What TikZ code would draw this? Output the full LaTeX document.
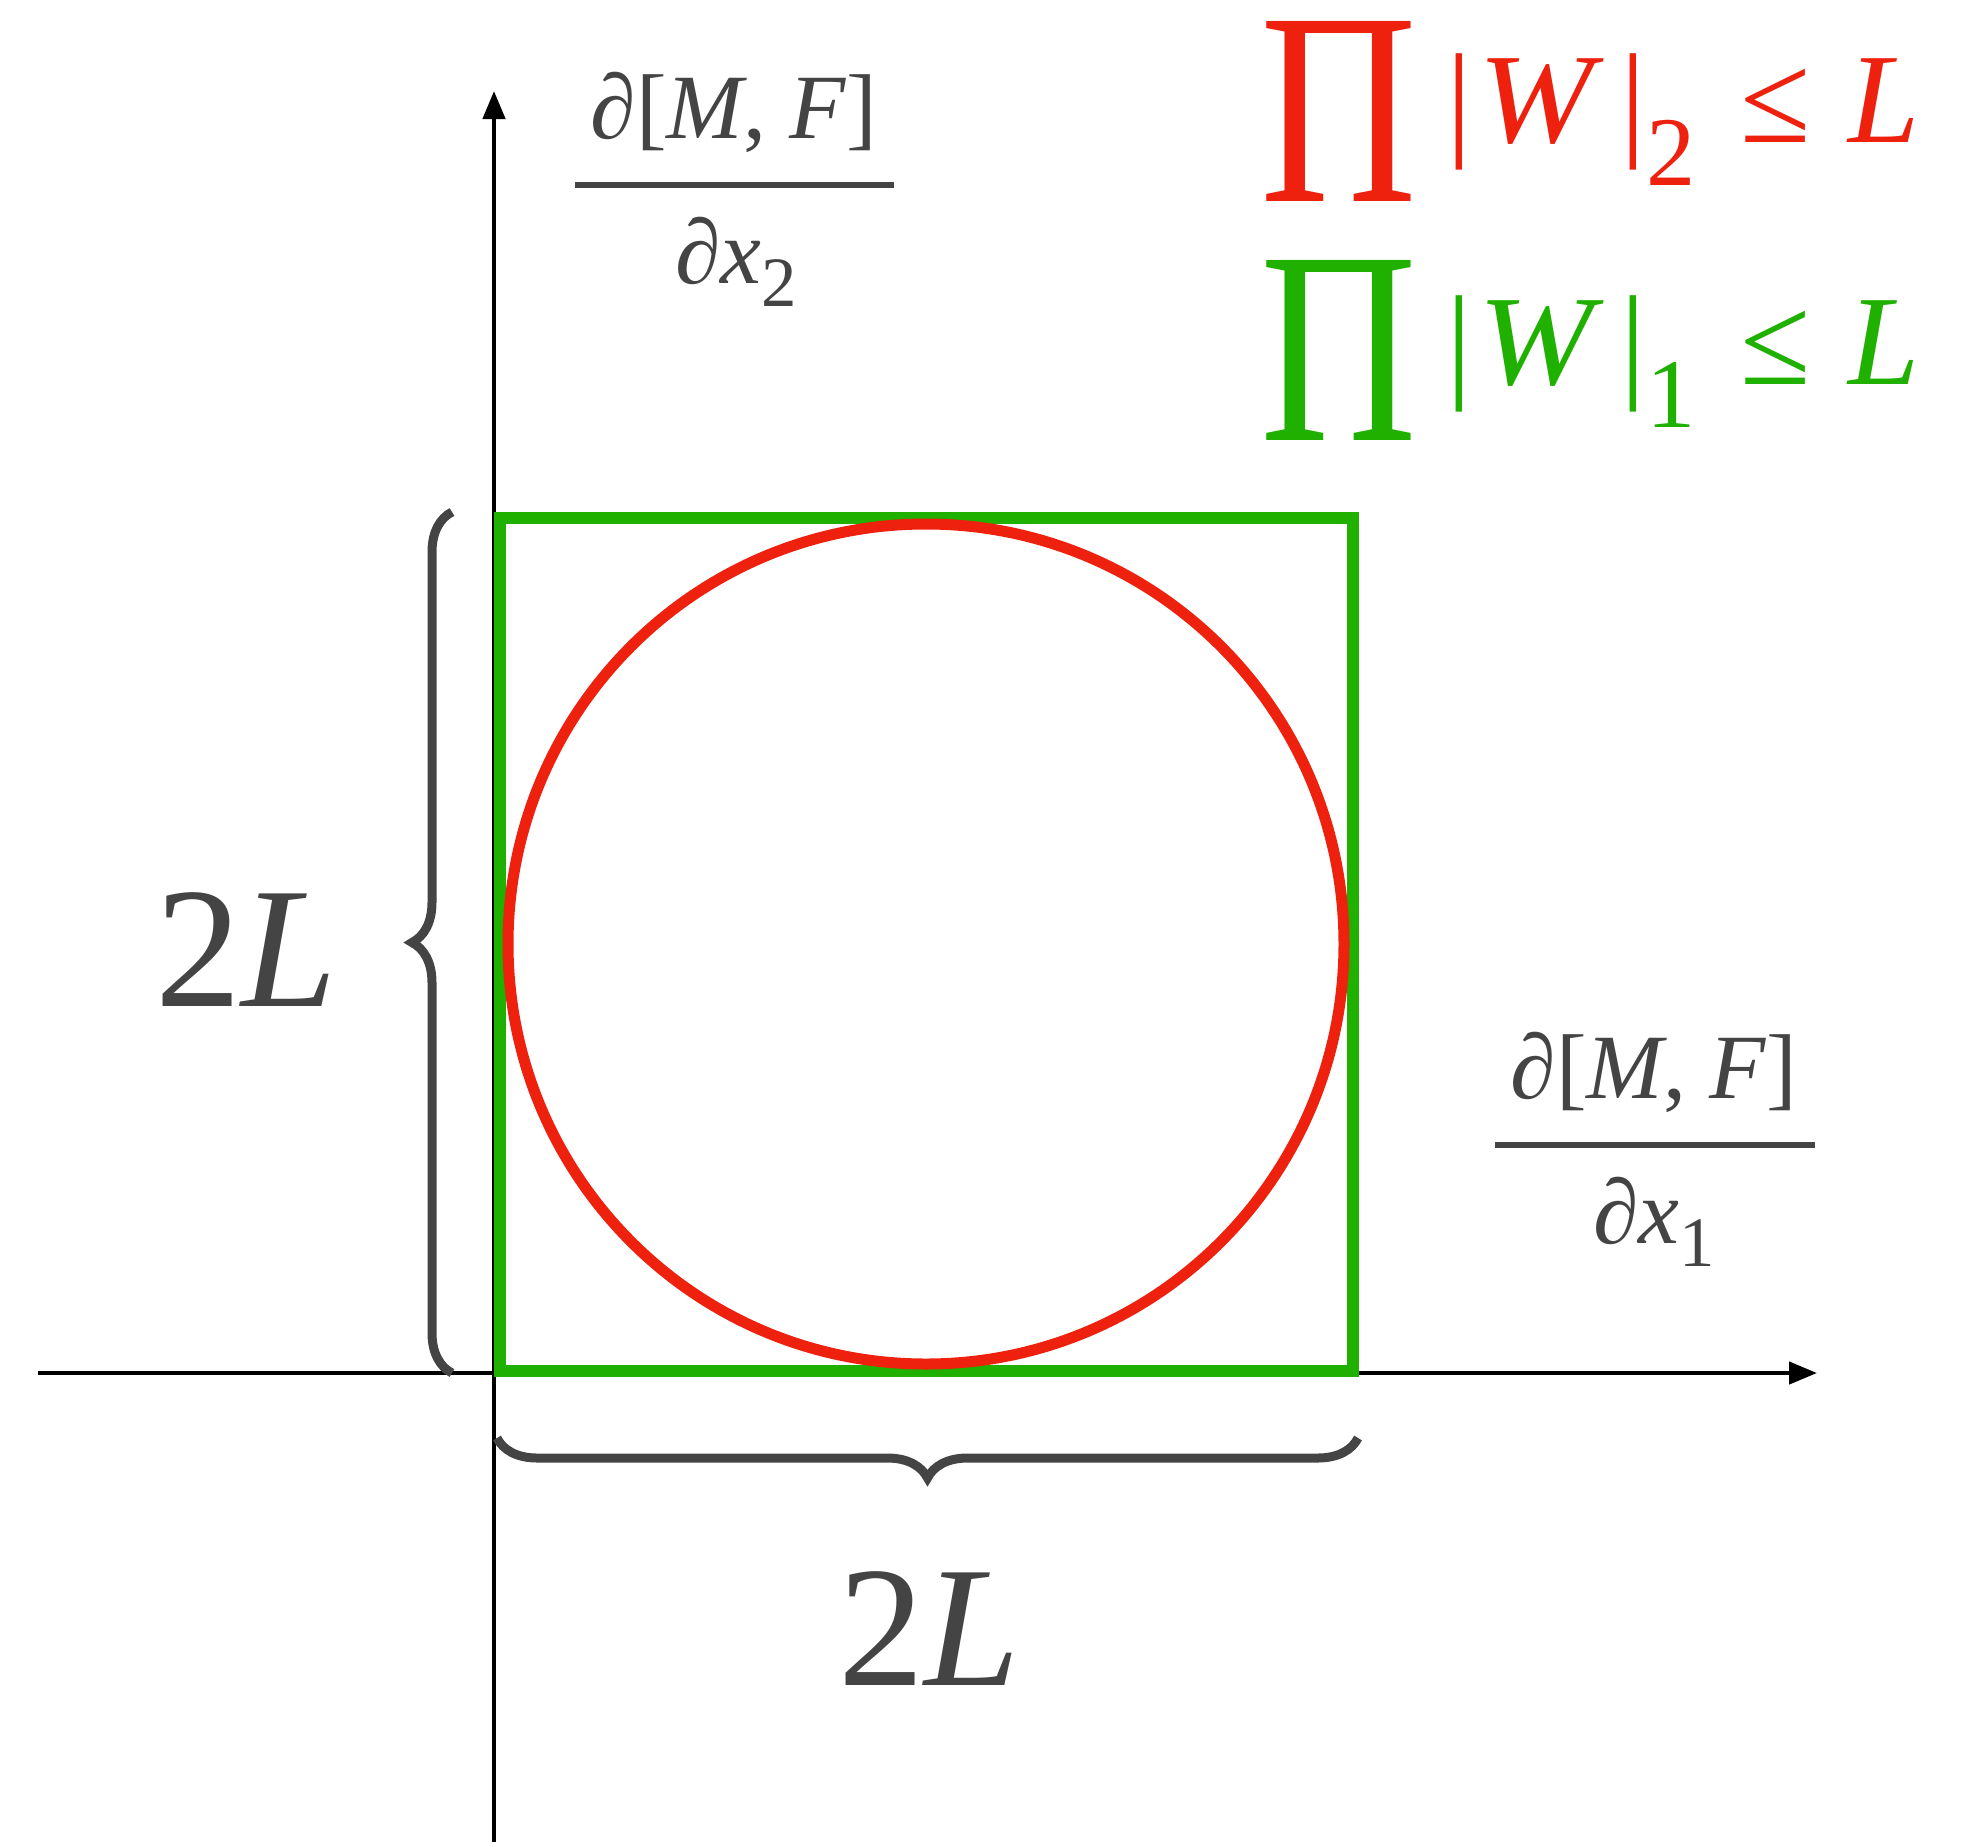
\documentclass[tikz,border=0pt]{standalone}
\usepackage{fontspec}
\setmainfont{Liberation Serif}
\usepackage{tikz}
\usetikzlibrary{positioning,arrows.meta,decorations.pathreplacing}
\definecolor{normred}{HTML}{EE200E}
\definecolor{normgreen}{HTML}{1FB000}
\definecolor{inkgray}{HTML}{444444}
\newcommand\lowsub[2]{\raisebox{-#1em}{\scalebox{0.77}{#2}}}
\newcommand\wideW{\scalebox{1.08}[1]{\textit{W}}}
\tikzset{
    axisline/.style={
        draw=black, line width=4.5pt,
        -{Triangle[length=28pt, width=22pt]}
    },
    ballline/.style={draw=normred, line width=11pt},
    boxline/.style={draw=normgreen, line width=12pt},
    bracemark/.style={
        decorate, decoration={brace, amplitude=40pt},
        draw=inkgray, line width=9pt
    },
    fracbar/.style={draw=inkgray, line width=6pt},
    bigtxt/.style={text=inkgray, inner sep=0pt, font=\fontsize{172}{172}\selectfont},
    fractxt/.style={text=inkgray, inner sep=0pt, font=\fontsize{92}{92}\selectfont},
    normtxt/.style={inner sep=0pt, font=\fontsize{128}{128}\selectfont},
    prodtxt/.style={inner sep=0pt, text height=182pt, text depth=0pt,
        font=\fontsize{275}{275}\selectfont},
}

\begin{document}
\begin{tikzpicture}[x=1pt, y=-1pt]
    \useasboundingbox (0,0) rectangle (1972,1842);
    % axes
    \coordinate (origin) at (494,1373);
    \coordinate (xstart) at (38,1373);
    \coordinate (xend) at (1817,1373);
    \coordinate (ybot) at (494,1842);
    \coordinate (yend) at (494,91);
    \draw[axisline] (xstart) -- (xend);
    \draw[axisline] (ybot) -- (yend);
    % unit balls
    \coordinate (centre) at (926,944);
    \draw[boxline] (500,518) rectangle (1353,1371);
    \draw[ballline] (centre) circle [x radius=418, y radius=420];
    % braces
    \coordinate (lbot) at (452,1373);
    \coordinate (ltop) at (452,512);
    \coordinate (bright) at (1358,1438);
    \coordinate (bleft) at (497,1438);
    \draw[bracemark] (lbot) -- (ltop);
    \draw[bracemark] (bright) -- (bleft);
    \node[bigtxt, anchor=base] (sidey) at (246,1006) {2\textit{L}};
    \node[bigtxt, anchor=base] (sidex) at (929,1685) {2\textit{L}};
    % axis labels
    \node[fractxt, anchor=base] (numy) at (734,138) {\textit{∂}[\textit{M}, \textit{F}]};
    \draw[fracbar] (575,185) -- (894,185);
    \node[fractxt, anchor=base] (deny) at (736,283) {\textit{∂x}\lowsub{0.25}{2}};
    \node[fractxt, anchor=base] (numx) at (1654,1098) {\textit{∂}[\textit{M}, \textit{F}]};
    \draw[fracbar] (1495,1145) -- (1815,1145);
    \node[fractxt, anchor=base] (denx) at (1654,1243) {\textit{∂x}\lowsub{0.25}{1}};
    % legend
    \node[prodtxt, text=normred, anchor=base] (prodred) at (1339,201) {\scalebox{0.79}[1]{Π}};
    \node[normtxt, text=normred, anchor=base west] (normtwo) at (1446,142)
        {|\hspace{0.05em}\wideW\hspace{0.13em}|\lowsub{0.34}{2}\hspace{0.35em}≤\hspace{0.3em}\textit{L}};
    \node[prodtxt, text=normgreen, anchor=base] (prodgreen) at (1339,440) {\scalebox{0.79}[1]{Π}};
    \node[normtxt, text=normgreen, anchor=base west] (normone) at (1446,384)
        {|\hspace{0.05em}\wideW\hspace{0.13em}|\lowsub{0.34}{1}\hspace{0.35em}≤\hspace{0.3em}\textit{L}};
\end{tikzpicture}
\end{document}
